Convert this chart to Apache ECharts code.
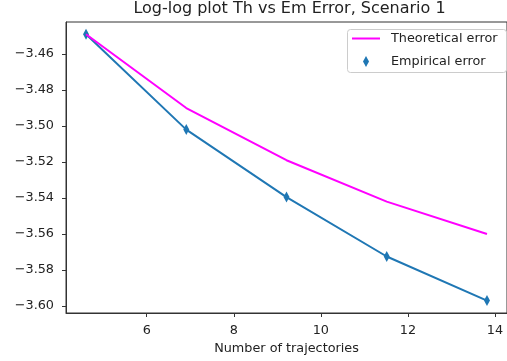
<!DOCTYPE html>
<html>
<head>
<meta charset="utf-8">
<script src="https://cdn.jsdelivr.net/npm/echarts@6/dist/echarts.min.js"></script>
<style>
html,body{margin:0;padding:0;background:#fff;}
#chart{width:507px;height:361px;}
</style>
</head>
<body>
<div id="chart"></div>
<script>
// Data
const xValues = [4.605, 6.908, 9.210, 11.513, 13.816];
const theoreticalError = [-3.449, -3.490, -3.519, -3.542, -3.560];
const empiricalError = [-3.449, -3.502, -3.5395, -3.5725, -3.597];
const xTicks = [6, 8, 10, 12, 14];
const yTicks = [-3.60, -3.58, -3.56, -3.54, -3.52, -3.50, -3.48, -3.46];

const titleText = 'Log-log plot Th vs Em Error, Scenario 1';
const xLabel = 'Number of trajectories';
const seriesNames = ['Theoretical error', 'Empirical error'];

const FONT = 'DejaVu Sans';
const FS = 12.8;
const theoData = xValues.map((x, i) => [x, theoreticalError[i]]);
const empData = xValues.map((x, i) => [x, empiricalError[i]]);
const fmtY = v => (v < 0 ? '\u2212' : '') + Math.abs(v).toFixed(2);

const chart = echarts.init(document.getElementById('chart'), null, {renderer: 'canvas'});
chart.setOption({
  animation: false,
  backgroundColor: '#ffffff',
  title: {
    text: titleText,
    left: 289.5,
    top: 1,
    textAlign: 'center',
    padding: 0,
    textStyle: {fontFamily: FONT, fontSize: 16, fontWeight: 'normal', color: '#222'}
  },
  grid: {
    left: 66, top: 22, width: 447, height: 291,
    show: true, borderColor: '#333', borderWidth: 1, backgroundColor: 'transparent',
    containLabel: false
  },
  xAxis: {
    type: 'value',
    min: 4.145, max: 14.276,
    name: xLabel,
    nameLocation: 'middle',
    nameGap: 28,
    nameTextStyle: {fontFamily: FONT, fontSize: FS, color: '#222'},
    axisLine: {show: true, onZero: false, lineStyle: {color: '#333', width: 1}},
    axisTick: {show: true, inside: false, length: 4, lineStyle: {color: '#333'}, customValues: xTicks},
    axisLabel: {fontFamily: FONT, fontSize: FS, color: '#222', margin: 11, customValues: xTicks,
      formatter: v => String(v)},
    splitLine: {show: false}
  },
  yAxis: {
    type: 'value',
    min: -3.6039, max: -3.4422,
    axisLine: {show: true, onZero: false, lineStyle: {color: '#333', width: 1}},
    axisTick: {show: true, inside: false, length: 4, lineStyle: {color: '#333'}, customValues: yTicks},
    axisLabel: {fontFamily: FONT, fontSize: FS, color: '#222', margin: 12, customValues: yTicks,
      formatter: fmtY},
    splitLine: {show: false}
  },
  legend: [
    {
      data: [{name: seriesNames[0], icon: 'rect'}],
      left: 352, top: 32, padding: 0, itemWidth: 28, itemHeight: 2, z: 10,
      selectedMode: false,
      textStyle: {fontFamily: FONT, fontSize: FS, color: '#222', padding: [0, 0, 0, 6]}
    },
    {
      data: [{name: seriesNames[1], icon: 'diamond'}],
      left: 363, top: 55, padding: 0, itemWidth: 6, itemHeight: 11, z: 10,
      selectedMode: false,
      textStyle: {fontFamily: FONT, fontSize: FS, color: '#222', padding: [0, 0, 0, 17]}
    }
  ],
  graphic: [{
    type: 'rect', left: 347, top: 29, z: 5,
    shape: {width: 159, height: 43, r: 3},
    style: {fill: '#fff', stroke: '#cccccc', lineWidth: 1}
  }],
  series: [
    {
      name: seriesNames[0], type: 'line', data: theoData,
      showSymbol: false, symbol: 'none',
      lineStyle: {color: '#ff00ff', width: 2}, itemStyle: {color: '#ff00ff'},
      z: 3
    },
    {
      name: seriesNames[1], type: 'line', data: empData,
      symbol: 'diamond', symbolSize: [6, 11], showSymbol: true,
      lineStyle: {color: '#1f77b4', width: 2}, itemStyle: {color: '#1f77b4'},
      z: 2
    }
  ]
});
</script>
</body>
</html>
